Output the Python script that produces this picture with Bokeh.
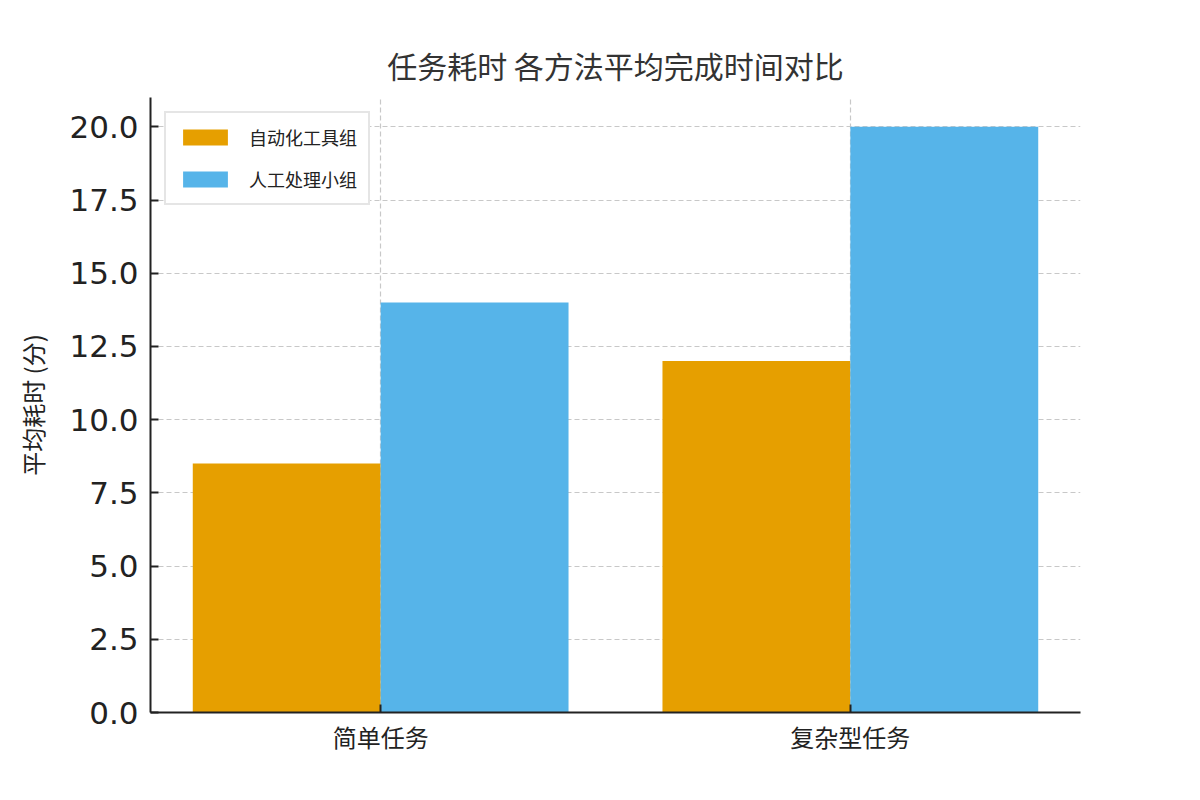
from bokeh.plotting import figure
from bokeh.models import FixedTicker, NumeralTickFormatter, ColumnDataSource, Legend
from bokeh.embed import file_html
from bokeh.resources import INLINE

# Data
categories = ["简单任务", "复杂型任务"]
series_names = ["自动化工具组", "人工处理小组"]
auto_values = [8.5, 12.0]
manual_values = [14.0, 20.0]
y_ticks = [0, 2.5, 5, 7.5, 10, 12.5, 15, 17.5, 20]
title_text = "任务耗时 各方法平均完成时间对比"
y_label = "平均耗时 (分)"

CJK = "Noto Sans CJK SC"
LATIN = "DejaVu Sans"

xs = list(range(len(categories)))
bar_w = 0.4

p = figure(width=1184, height=784, output_backend="svg", toolbar_location=None,
           x_range=(-0.49, 1.49), y_range=(0, 21),
           min_border_left=150, min_border_right=104, min_border_top=97,
           min_border_bottom=72, background_fill_color="white",
           border_fill_color="white", outline_line_color=None)

p.title.text = title_text
p.title.align = "center"
p.title.text_font = CJK
p.title.text_font_size = "30px"
p.title.text_font_style = "normal"
p.title.text_color = "#333333"
p.title.standoff = 21

src1 = ColumnDataSource(dict(x=[x - bar_w / 2 for x in xs], top=auto_values))
src2 = ColumnDataSource(dict(x=[x + bar_w / 2 for x in xs], top=manual_values))
r1 = p.vbar(x="x", top="top", width=bar_w, source=src1, fill_color="#E69F00", line_color=None)
r2 = p.vbar(x="x", top="top", width=bar_w, source=src2, fill_color="#56B4E9", line_color=None)

legend = Legend(items=[(series_names[0], [r1]), (series_names[1], [r2])], location="top_left")
legend.label_text_font = CJK
legend.label_text_font_size = "18px"
legend.label_text_color = "#222222"
legend.glyph_width = 56
legend.glyph_height = 20
legend.label_height = 24
legend.spacing = 16
legend.padding = 11
legend.margin = 14
legend.label_standoff = 16
legend.border_line_color = "#cccccc"
legend.border_line_width = 2
legend.background_fill_alpha = 1.0
p.add_layout(legend)

# axes
for ax in (p.xaxis, p.yaxis):
    ax.axis_line_width = 2
    ax.axis_line_color = "#222222"
    ax.major_tick_line_color = "#222222"
    ax.major_tick_line_width = 2
    ax.major_tick_in = 8
    ax.major_tick_out = 0
    ax.minor_tick_line_color = None
    ax.major_label_text_color = "#222222"

p.xaxis.ticker = FixedTicker(ticks=xs)
p.xaxis.major_label_overrides = {i: c for i, c in enumerate(categories)}
p.xaxis.major_label_text_font = CJK
p.xaxis.major_label_text_font_size = "24px"
p.xaxis.major_label_standoff = 6

p.yaxis.ticker = FixedTicker(ticks=y_ticks)
p.yaxis.formatter = NumeralTickFormatter(format="0.0")
p.yaxis.major_label_text_font = LATIN
p.yaxis.major_label_text_font_size = "31px"
p.yaxis.major_label_standoff = 12
p.yaxis.axis_label = y_label
p.yaxis.axis_label_text_font = CJK
p.yaxis.axis_label_text_font_size = "24px"
p.yaxis.axis_label_text_font_style = "normal"
p.yaxis.axis_label_text_color = "#222222"
p.yaxis.axis_label_standoff = 16

# grid
for g in (p.xgrid, p.ygrid):
    g.grid_line_color = "#c8c8c8"
    g.grid_line_dash = "5 3"
    g.grid_line_width = 1.2
p.xgrid.ticker = FixedTicker(ticks=xs)
p.ygrid.ticker = FixedTicker(ticks=y_ticks)

open("out.html", "w").write(file_html(p, INLINE))
